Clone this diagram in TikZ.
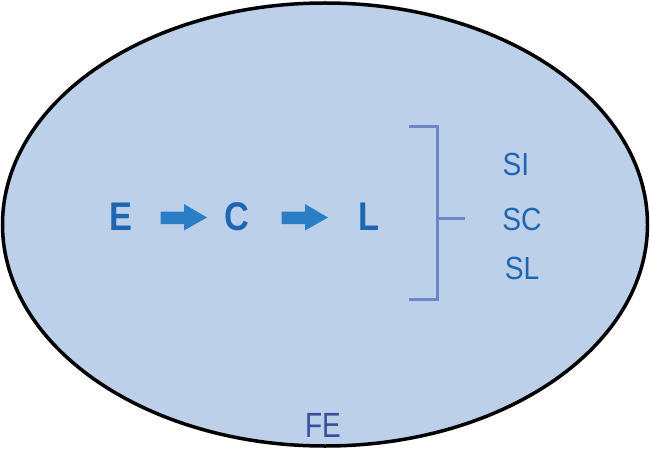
\documentclass[tikz,border=0pt]{standalone}
\usepackage{fontspec}
\setmainfont{Liberation Sans}
\definecolor{bgfill}{HTML}{BDD0EA}
\definecolor{txtblue}{HTML}{1E66B2}
\definecolor{arrblue}{HTML}{2B7EC5}
\definecolor{fecol}{HTML}{3B4E9C}
\definecolor{brcol}{HTML}{6F86C6}
\begin{document}
\begin{tikzpicture}[x=1pt,y=-1pt,
  big/.style={font=\fontsize{40}{44}\selectfont\bfseries, text=txtblue, inner sep=0pt, xscale=0.86},
  small/.style={font=\fontsize{32}{36}\selectfont, text=txtblue, inner sep=0pt, xscale=0.88},
  blockarrow/.style={fill=arrblue, draw=none},
  brack/.style={draw=brcol, line width=3pt}]
\useasboundingbox (0,0) rectangle (650,449);
\draw[fill=bgfill, line width=3.5pt] (325,224.5) ellipse [x radius=322.5, y radius=221.5];
\node[big] (E) at (121,217) {E};
\node[big] (C) at (237,217) {C};
\node[big] (L) at (369,217) {L};
\fill[blockarrow] (160.5,211.5) -- (184,211.5) -- (184,204) -- (207,217.5) -- (184,230.5) -- (184,224) -- (160.5,224) -- cycle;
\fill[blockarrow] (281.5,211.5) -- (305,211.5) -- (305,204) -- (328,217.5) -- (305,230.5) -- (305,224) -- (281.5,224) -- cycle;
\coordinate (bt) at (437,127);
\coordinate (bb) at (437,299);
\coordinate (bm) at (437,218);
\draw[brack] (409,127) -- (bt) -- (bb) -- (409,299);
\draw[brack] (bm) -- (465,218);
\node[small] (SI) at (516,164) {SI};
\node[small] (SC) at (522,219) {SC};
\node[small] (SL) at (522,268.5) {SL};
\node[font=\fontsize{35}{38}\selectfont, text=fecol, inner sep=0pt, xscale=0.8] (FE) at (323,425) {FE};
\end{tikzpicture}
\end{document}
